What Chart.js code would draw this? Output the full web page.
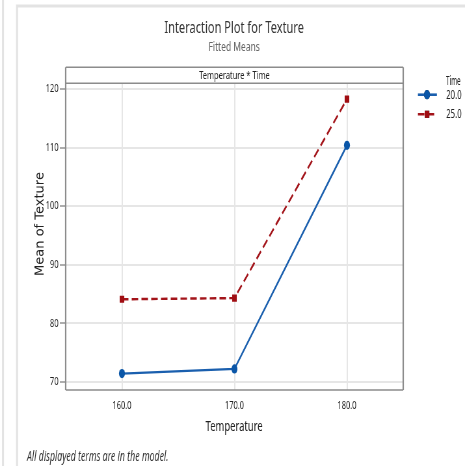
<!DOCTYPE html>
<html>
<head>
<meta charset="utf-8">
<script src="https://cdn.jsdelivr.net/npm/chart.js@4.4.1/dist/chart.umd.min.js"></script>
<style>
  html, body { margin: 0; padding: 0; background: #fff; overflow: hidden; }
  #plot { display: block; }
</style>
</head>
<body>
<canvas id="plot" width="715" height="466" style="width:465px;height:466px"></canvas>
<script>
// fitted means, Temperature x Time
var temperatures = [160, 170, 180];
var time20 = [71.4, 72.2, 110.4];
var time25 = [84.1, 84.3, 118.3];
var timeLevels = ['20.0', '25.0'];
var yTicks = [70, 80, 90, 100, 110, 120];

// the canvas is drawn wide and shown narrow, so text and markers come out condensed
var SQ = 465 / 715;

function points(vals) {
	return temperatures.map(function(t, i) { return { x: t, y: vals[i] }; });
}

function text(ctx, str, x, y, font, color, align, maxW) {
	ctx.font = font;
	ctx.fillStyle = color;
	ctx.textAlign = align || 'center';
	ctx.textBaseline = 'middle';
	if (maxW) ctx.fillText(str, x, y, maxW); else ctx.fillText(str, x, y);
}

var decor = {
	id: 'decor',
	beforeDraw: function(chart) {
		var ctx = chart.ctx;
		ctx.save();
		ctx.fillStyle = '#fff';
		ctx.fillRect(0, 0, chart.width, chart.height);
		// page frame
		ctx.strokeStyle = '#e3e3e3';
		ctx.lineWidth = 3;
		ctx.beginPath();
		ctx.moveTo(4.6, 0); ctx.lineTo(4.6, 466);
		ctx.moveTo(26.2, 466); ctx.lineTo(26.2, 6); ctx.lineTo(715, 6);
		ctx.stroke();
		ctx.restore();
	},
	afterDraw: function(chart) {
		var ctx = chart.ctx, a = chart.chartArea;
		var boxTop = 67.3;
		ctx.save();

		// panel box with header strip
		ctx.strokeStyle = '#8c8c8c';
		ctx.lineWidth = 1.5;
		ctx.beginPath();
		ctx.moveTo(a.left, boxTop); ctx.lineTo(a.right, boxTop);
		ctx.moveTo(a.left, a.top); ctx.lineTo(a.right, a.top);
		ctx.moveTo(a.left, a.bottom); ctx.lineTo(a.right, a.bottom);
		ctx.stroke();
		ctx.lineWidth = 2.2;
		ctx.beginPath();
		ctx.moveTo(a.left, boxTop); ctx.lineTo(a.left, a.bottom);
		ctx.moveTo(a.right, boxTop); ctx.lineTo(a.right, a.bottom);
		ctx.stroke();
		text(ctx, 'Temperature * Time', (a.left + a.right) / 2, 76, '11.5px "Noto Sans"', '#222', 'center', 122);

		// titles
		text(ctx, 'Interaction Plot for Texture', 360, 28.5, '17px "Noto Sans"', '#333', 'center', 226);
		text(ctx, 'Fitted Means', 360, 47.5, '13px "Noto Sans"', '#666', 'center', 88);

		// axis titles
		text(ctx, 'Temperature', 360, 427, '14.5px "Noto Sans"', '#222', 'center', 94);
		ctx.save();
		ctx.translate(61.5, 224);
		ctx.scale(1 / SQ, 1);
		ctx.rotate(-Math.PI / 2);
		text(ctx, 'Mean of Texture', 0, 0, '13px "DejaVu Sans"', '#222', 'center', 105);
		ctx.restore();

		text(ctx, 'All displayed terms are in the model.', 41.5, 457, 'italic 13.5px "Noto Sans"', '#333', 'left', 228);

		// legend
		text(ctx, 'Time', 686, 82, '12px "Noto Sans"', '#222', 'left', 22);
		var rows = [94.7, 114.3];
		chart.data.datasets.forEach(function(ds, i) {
			var y = rows[i];
			ctx.save();
			ctx.strokeStyle = ds.borderColor;
			ctx.lineWidth = 2.6;
			ctx.setLineDash(ds.borderDash || []);
			ctx.beginPath();
			ctx.moveTo(642.6, y); ctx.lineTo(671.8, y);
			ctx.stroke();
			ctx.restore();
			Chart.helpers.drawPoint(ctx, { pointStyle: ds.pointStyle, radius: ds.pointRadius, borderWidth: 0, rotation: 0 }, 656.6, y);
			ctx.fillStyle = ds.pointBackgroundColor;
			ctx.fill();
			text(ctx, ds.label, 686, y + 0.5, '12px "Noto Sans"', '#222', 'left', 25);
		});

		ctx.restore();
	}
};

var ctx = document.getElementById('plot').getContext('2d');

var chart = new Chart(ctx, {
	type: 'line',
	data: {
		datasets: [
			{
				label: timeLevels[0],
				data: points(time20),
				borderColor: '#1a5fae',
				borderWidth: 2.4,
				pointStyle: 'circle',
				pointRadius: 4.6,
				pointBackgroundColor: '#0a56a8',
				pointBorderWidth: 0,
				tension: 0
			},
			{
				label: timeLevels[1],
				data: points(time25),
				borderColor: '#a3141a',
				borderWidth: 2.4,
				borderDash: [10, 5],
				pointStyle: 'rect',
				pointRadius: 5,
				pointBackgroundColor: '#a00d12',
				pointBorderWidth: 0,
				tension: 0
			}
		]
	},
	options: {
		responsive: false,
		animation: false,
		events: [],
		layout: { padding: { top: 83.3, right: 95, left: 0, bottom: 0 } },
		plugins: {
			legend: { display: false },
			tooltip: { enabled: false },
			title: { display: false }
		},
		scales: {
			x: {
				type: 'linear',
				min: 155,
				max: 185,
				afterBuildTicks: function(s) { s.ticks = temperatures.map(function(v) { return { value: v }; }); },
				afterFit: function(s) { s.height = 76; },
				ticks: {
					callback: function(v) { return v.toFixed(1); },
					font: { family: 'Noto Sans', size: 11.5 },
					color: '#222',
					padding: 9,
					maxRotation: 0
				},
				grid: { color: '#e6e6e6', lineWidth: 2, drawTicks: false },
				border: { display: false }
			},
			y: {
				min: 68.6,
				max: 121,
				afterBuildTicks: function(s) { s.ticks = yTicks.map(function(v) { return { value: v }; }); },
				afterFit: function(s) { s.width = 101; },
				ticks: {
					font: { family: 'Noto Sans', size: 11.5 },
					color: '#222',
					padding: 2
				},
				grid: { color: '#e6e6e6', lineWidth: 2, tickColor: '#777', tickLength: 9, tickWidth: 1.2 },
				border: { display: false }
			}
		}
	},
	plugins: [decor]
});
</script>
</body>
</html>
